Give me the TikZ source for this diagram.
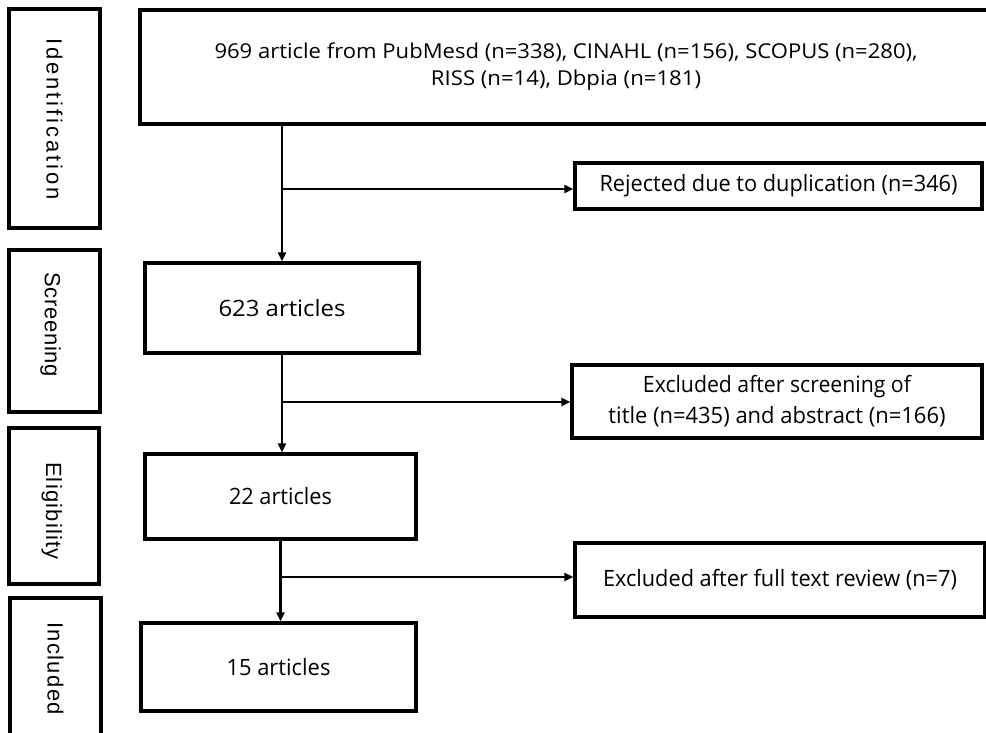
\documentclass[tikz,border=0pt]{standalone}
\usepackage{fontspec}
\setmainfont{Open Sans}
\newfontfamily\labfont{Liberation Sans}
\usetikzlibrary{arrows.meta}
\newcommand\fw[2]{\resizebox{#1pt}{\height}{#2}}
\makeatletter
\newcommand\spreadword[2]{\makebox[#1pt][s]{\my@spreadw#2\@nil}}
\def\my@spreadw#1#2\@nil{#1\ifx\relax#2\relax\else\hfil\my@spreadw#2\@nil\fi}
\makeatother
\begin{document}
\begin{tikzpicture}[x=1pt,y=-1pt,
  box/.style={draw,line width=3.4pt,rectangle,inner sep=0pt,align=center},
  lab/.style={rotate=-90,inner sep=0pt,font=\labfont\fontsize{22}{22}\selectfont,text height=16pt,text depth=0pt},
  flow/.style={line width=2.8pt,-{Triangle[length=9pt,width=8pt]}},
  mtext/.style={font=\fontsize{20.5}{27}\selectfont},
  stext/.style={font=\fontsize{22.5}{31}\selectfont}]
\useasboundingbox (0,0) rectangle (986,732);
\clip (0,0) rectangle (986,732);
% stage boxes
\node[box,minimum width=91pt,minimum height=219pt] (id) at (54.5,118.5) {};
\node[box,minimum width=91pt,minimum height=162pt] (scr) at (54.5,331) {};
\node[box,minimum width=90pt,minimum height=156pt] (eli) at (54,506) {};
\node[box,minimum width=91pt,minimum height=162pt] (inc) at (55.5,679) {};
\node[lab] (lid) at (54.5,119) {\spreadword{162}{Identification}};
\node[lab] (lscr) at (53,324.5) {\spreadword{105}{Screening}};
\node[lab] (leli) at (54,511) {\spreadword{98}{Eligibility}};
\node[lab] (linc) at (55.5,668.5) {\spreadword{93}{Included}};
% flow boxes
\node[box,mtext,minimum width=852pt,minimum height=114pt] (main) at (566,67)
  {\fw{703}{969 article from PubMesd (n=338), CINAHL (n=156), SCOPUS (n=280),}\\\fw{270}{RISS (n=14), Dbpia (n=181)}};
\node[box,stext,minimum width=407pt,minimum height=46pt] (rej) at (778.5,186)
  {\fw{358}{Rejected due to duplication (n=346)}};
\node[box,stext,minimum width=274pt,minimum height=90pt] (a623) at (282,308)
  {\fw{127}{623 articles}};
\node[box,stext,minimum width=410pt,minimum height=73pt] (exc1) at (777,401.5)
  {\fw{268}{Excluded after screening of}\\\fw{337}{title (n=435) and abstract (n=166)}};
\node[box,stext,minimum width=271pt,minimum height=85pt] (a22) at (280.5,496.5)
  {\fw{103}{22 articles}};
\node[box,stext,minimum width=410pt,minimum height=74pt] (exc2) at (780,580)
  {\fw{354}{Excluded after full text review (n=7)}};
\node[box,stext,minimum width=275pt,minimum height=88pt] (a15) at (278.5,667)
  {\fw{104}{15 articles}};
% connectors
\coordinate (b1) at (282,189);
\coordinate (b2) at (282,402);
\coordinate (b3) at (280.5,577);
\draw[flow] (a623.north |- main.south) -- (a623.north);
\draw[flow] (b1) -- (b1 -| rej.west);
\draw[flow] (a623.south) -- (a623.south |- a22.north);
\draw[flow] (b2) -- (b2 -| exc1.west);
\draw[flow] (a22.south) -- (a22.south |- a15.north);
\draw[flow] (b3) -- (b3 -| exc2.west);
\end{tikzpicture}
\end{document}
